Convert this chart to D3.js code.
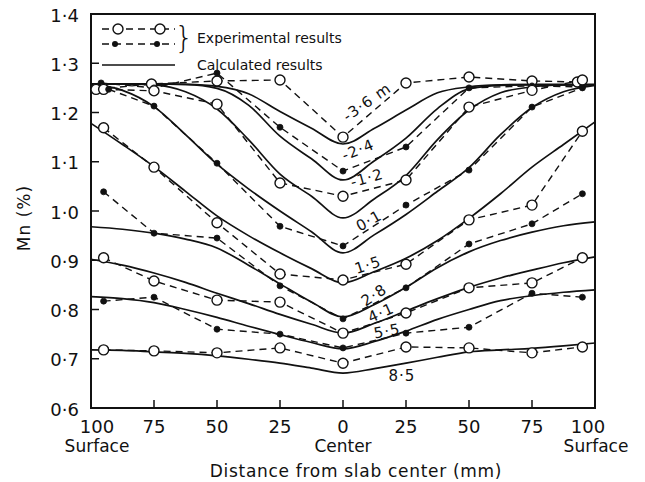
<!DOCTYPE html>
<html>
<head>
<meta charset="utf-8">
<script src="https://cdn.jsdelivr.net/npm/d3@7"></script>
<style>
  body { margin: 0; background: #fff; }
  text { font-family: "DejaVu Sans", sans-serif; fill: #111; }
</style>
</head>
<body>
<svg id="chart" width="645" height="482"></svg>
<script>
// x: distance from slab center in mm, left surface negative, right surface positive
const xTicks = [-75, -50, -25, 0, 25, 50, 75];
const xTickLabels = ["100", "75", "50", "25", "0", "25", "50", "75", "100"];
const yTicks = [0.6, 0.7, 0.8, 0.9, 1.0, 1.1, 1.2, 1.3, 1.4];
const yTickLabels = ["0·6", "0·7", "0·8", "0·9", "1·0", "1·1", "1·2", "1·3", "1·4"];

// calculated results (solid lines)
const calcX = [-100, -87.5, -75, -62.5, -50, -37.5, -25, -12.5, 0, 12.5, 25, 37.5, 50, 62.5, 75, 87.5, 100];
const calcM36 = [1.258, 1.258, 1.258, 1.257, 1.253, 1.238, 1.202, 1.168, 1.136, 1.168, 1.205, 1.240, 1.252, 1.256, 1.257, 1.257, 1.256];
const calcM24 = [1.258, 1.258, 1.258, 1.257, 1.249, 1.215, 1.152, 1.106, 1.063, 1.102, 1.148, 1.208, 1.248, 1.255, 1.256, 1.256, 1.256];
const calcM12 = [1.258, 1.258, 1.256, 1.242, 1.207, 1.145, 1.075, 1.030, 0.986, 1.025, 1.072, 1.145, 1.205, 1.240, 1.252, 1.256, 1.257];
const calc01 = [1.258, 1.245, 1.212, 1.155, 1.095, 1.045, 1.000, 0.958, 0.915, 0.952, 0.993, 1.040, 1.088, 1.155, 1.210, 1.242, 1.255];
const calc15 = [1.178, 1.135, 1.090, 1.040, 0.990, 0.950, 0.915, 0.883, 0.854, 0.877, 0.904, 0.940, 0.985, 1.035, 1.089, 1.135, 1.181];
const calc28 = [0.968, 0.963, 0.955, 0.943, 0.925, 0.890, 0.852, 0.815, 0.785, 0.810, 0.845, 0.885, 0.917, 0.940, 0.957, 0.970, 0.978];
const calc41 = [0.902, 0.890, 0.874, 0.855, 0.833, 0.812, 0.790, 0.770, 0.752, 0.772, 0.797, 0.822, 0.845, 0.864, 0.880, 0.895, 0.907];
const calc55 = [0.826, 0.822, 0.814, 0.800, 0.784, 0.766, 0.749, 0.733, 0.720, 0.735, 0.756, 0.780, 0.800, 0.818, 0.828, 0.835, 0.840];
const calc85 = [0.718, 0.717, 0.714, 0.711, 0.706, 0.699, 0.691, 0.681, 0.671, 0.680, 0.691, 0.703, 0.714, 0.718, 0.721, 0.726, 0.732];

// experimental results (dashed lines with markers)
const expX = [-95, -75, -50, -25, 0, 25, 50, 75, 95];
const expXM36 = [-98, -76, -50, -25, 0, 25, 50, 75, 93];
const expXM24 = [-96, -75, -50, -25, 0, 25, 50, 75, 95];
const expX01 = [-93, -75, -50, -25, 0, 25, 50, 75, 95];
const expM36 = [1.247, 1.258, 1.264, 1.266, 1.150, 1.260, 1.272, 1.264, 1.262];
const expM24 = [1.260, 1.250, 1.280, 1.170, 1.081, 1.130, 1.250, 1.254, 1.252];
const expM12 = [1.247, 1.244, 1.217, 1.057, 1.030, 1.063, 1.211, 1.245, 1.266];
const exp01 = [1.247, 1.213, 1.097, 0.969, 0.929, 1.012, 1.083, 1.211, 1.250];
const exp15 = [1.169, 1.089, 0.976, 0.872, 0.860, 0.892, 0.982, 1.012, 1.162];
const exp28 = [1.039, 0.955, 0.945, 0.848, 0.781, 0.844, 0.933, 0.974, 1.035];
const exp41 = [0.905, 0.858, 0.819, 0.815, 0.752, 0.793, 0.844, 0.854, 0.905];
const exp55 = [0.817, 0.825, 0.760, 0.750, 0.722, 0.752, 0.764, 0.833, 0.825];
const exp85 = [0.718, 0.716, 0.712, 0.722, 0.691, 0.724, 0.722, 0.712, 0.724];

const curveNames = ["-3·6 m", "-2·4", "-1·2", "0·1", "1·5", "2·8", "4·1", "5·5", "8·5"];

const series = [
  {name: curveNames[0], open: true,  ex: expXM36, ey: expM36, cy: calcM36},
  {name: curveNames[1], open: false, ex: expXM24, ey: expM24, cy: calcM24},
  {name: curveNames[2], open: true,  ex: expX,    ey: expM12, cy: calcM12},
  {name: curveNames[3], open: false, ex: expX01,  ey: exp01,  cy: calc01},
  {name: curveNames[4], open: true,  ex: expX,    ey: exp15,  cy: calc15},
  {name: curveNames[5], open: false, ex: expX,    ey: exp28,  cy: calc28},
  {name: curveNames[6], open: true,  ex: expX,    ey: exp41,  cy: calc41},
  {name: curveNames[7], open: false, ex: expX,    ey: exp55,  cy: calc55},
  {name: curveNames[8], open: true,  ex: expX,    ey: exp85,  cy: calc85}
];

// where each curve name sits (data coords) and its tilt
const namePlaces = [
  [9.5, 1.221, -35], [6.0, 1.124, -22], [9.5, 1.067, -16], [10.3, 0.980, -29],
  [9.9, 0.890, -18], [12.3, 0.829, -33], [15.1, 0.793, -24], [17.5, 0.756, -10], [23.4, 0.665, 0]
];

const svg = d3.select("#chart");
const x = d3.scaleLinear().domain([-100, 100]).range([91, 595]);
const y = d3.scaleLinear().domain([0.6, 1.4]).range([408, 14]);

// frame
svg.append("rect")
  .attr("x", x(-100)).attr("y", y(1.4))
  .attr("width", x(100) - x(-100)).attr("height", y(0.6) - y(1.4))
  .attr("fill", "none").attr("stroke", "#111").attr("stroke-width", 2);

// y axis ticks + labels
svg.append("g").selectAll("line")
  .data(yTicks.slice(1, -1))
  .join("line")
  .attr("x1", x(-100)).attr("x2", x(-100) + 8)
  .attr("y1", d => y(d)).attr("y2", d => y(d))
  .attr("stroke", "#111").attr("stroke-width", 1.5);

svg.append("g").selectAll("text")
  .data(yTicks)
  .join("text")
  .attr("x", 79).attr("y", d => y(d) + 1)
  .attr("text-anchor", "end").attr("dominant-baseline", "central")
  .style("font-size", "18px")
  .text((d, i) => yTickLabels[i]);

// x axis ticks + labels
svg.append("g").selectAll("line")
  .data(xTicks)
  .join("line")
  .attr("x1", d => x(d)).attr("x2", d => x(d))
  .attr("y1", y(0.6)).attr("y2", y(0.6) - 8)
  .attr("stroke", "#111").attr("stroke-width", 1.5);

const xLabelAt = [-100].concat(xTicks, [100]);
svg.append("g").selectAll("text")
  .data(xLabelAt)
  .join("text")
  .attr("x", d => x(d) + (d === -100 ? 6 : d === 100 ? -7 : 0))
  .attr("y", 433)
  .attr("text-anchor", "middle")
  .style("font-size", "18px")
  .text((d, i) => xTickLabels[i]);

[[-100, 6, "Surface"], [0, 0, "Center"], [100, 1, "Surface"]].forEach(([v, dx, t]) => {
  svg.append("text")
    .attr("x", x(v) + dx).attr("y", 452)
    .attr("text-anchor", "middle")
    .style("font-size", "17px")
    .text(t);
});

svg.append("text")
  .attr("x", 356).attr("y", 477)
  .attr("text-anchor", "middle")
  .style("font-size", "17px").style("letter-spacing", "0.7px")
  .text("Distance from slab center (mm)");

svg.append("text")
  .attr("transform", "translate(24,218) rotate(-90)")
  .attr("text-anchor", "middle").attr("dominant-baseline", "central")
  .style("font-size", "17px").style("letter-spacing", "1px")
  .text("Mn (%)");

// calculated lines
const calcLine = d3.line()
  .x((d, i) => x(calcX[i]))
  .y(d => y(d))
  .curve(d3.curveMonotoneX);

svg.append("g").selectAll("path")
  .data(series)
  .join("path")
  .attr("d", s => calcLine(s.cy))
  .attr("fill", "none").attr("stroke", "#111").attr("stroke-width", 1.7);

// experimental dashed lines
const expLine = d3.line().x(d => x(d[0])).y(d => y(d[1]));

svg.append("g").selectAll("path")
  .data(series)
  .join("path")
  .attr("d", s => expLine(s.ex.map((v, i) => [v, s.ey[i]])))
  .attr("fill", "none").attr("stroke", "#111").attr("stroke-width", 1.4)
  .attr("stroke-dasharray", "7,5");

// markers
series.forEach(s => {
  svg.append("g").selectAll("circle")
    .data(s.ex.map((v, i) => [v, s.ey[i]]))
    .join("circle")
    .attr("cx", d => x(d[0])).attr("cy", d => y(d[1]))
    .attr("r", s.open ? 5 : 3)
    .attr("fill", s.open ? "#fff" : "#111")
    .attr("stroke", "#111").attr("stroke-width", s.open ? 1.4 : 0.8);
});

// curve names
svg.append("g").selectAll("text")
  .data(series)
  .join("text")
  .attr("transform", (s, i) => `translate(${x(namePlaces[i][0])},${y(namePlaces[i][1])}) rotate(${namePlaces[i][2]})`)
  .attr("text-anchor", "middle").attr("dominant-baseline", "central")
  .style("font-size", "15px").style("letter-spacing", "1px")
  .text(s => s.name);

// legend
const leg = svg.append("g");
leg.append("line").attr("x1", 102).attr("x2", 175).attr("y1", 29).attr("y2", 29)
  .attr("stroke", "#111").attr("stroke-width", 1.4).attr("stroke-dasharray", "7,5");
leg.append("line").attr("x1", 102).attr("x2", 175).attr("y1", 44).attr("y2", 44)
  .attr("stroke", "#111").attr("stroke-width", 1.4).attr("stroke-dasharray", "7,5");
leg.append("line").attr("x1", 102).attr("x2", 175).attr("y1", 65).attr("y2", 65)
  .attr("stroke", "#111").attr("stroke-width", 1.7);
[118, 160].forEach(cx => {
  leg.append("circle").attr("cx", cx).attr("cy", 29).attr("r", 5)
    .attr("fill", "#fff").attr("stroke", "#111").attr("stroke-width", 1.4);
  leg.append("circle").attr("cx", cx - 3).attr("cy", 44).attr("r", 3).attr("fill", "#111");
});
leg.append("text").attr("x", 184).attr("y", 37)
  .attr("text-anchor", "middle").attr("dominant-baseline", "central")
  .style("font-size", "30px").style("font-weight", "200").text("}");
leg.append("text").attr("x", 197).attr("y", 38).attr("dominant-baseline", "central")
  .style("font-size", "14px").text("Experimental results");
leg.append("text").attr("x", 197).attr("y", 65).attr("dominant-baseline", "central")
  .style("font-size", "14px").text("Calculated results");
</script>
</body>
</html>
